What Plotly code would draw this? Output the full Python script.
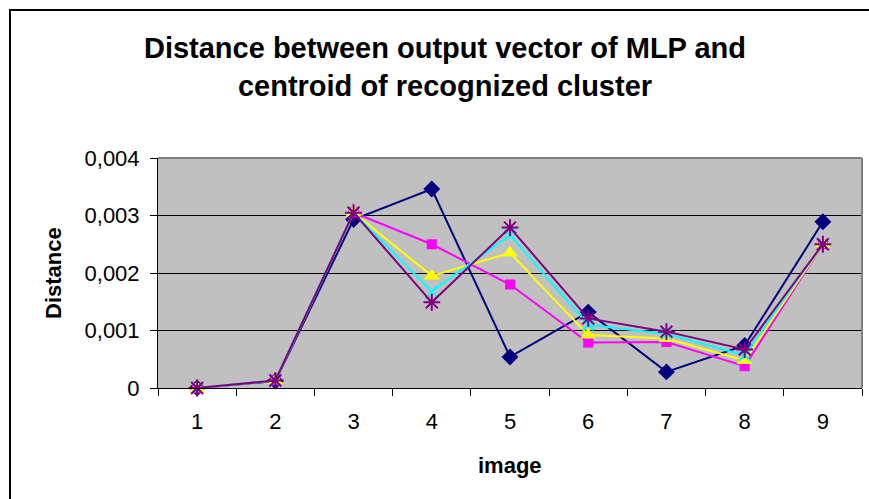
import plotly.graph_objects as go

images = [1, 2, 3, 4, 5, 6, 7, 8, 9]
series_1 = [0.0, 0.00012, 0.00293, 0.00346, 0.00054, 0.00132, 0.00028, 0.00074, 0.00289]
series_2 = [0.0, 0.00013, 0.00305, 0.00250, 0.00180, 0.00079, 0.00080, 0.00038, 0.00250]
series_3 = [0.0, 0.00013, 0.00305, 0.00195, 0.00235, 0.00092, 0.00086, 0.00048, 0.00250]
series_4 = [0.0, 0.00013, 0.00305, 0.00168, 0.00266, 0.00110, 0.00094, 0.00057, 0.00251]
series_5 = [0.0, 0.00013, 0.00305, 0.00149, 0.00279, 0.00121, 0.00098, 0.00067, 0.00250]
y_ticks = [0, 0.001, 0.002, 0.003, 0.004]
y_tick_labels = ["0", "0,001", "0,002", "0,003", "0,004"]
x_tick_labels = ["1", "2", "3", "4", "5", "6", "7", "8", "9"]

FONT = "Liberation Sans, Arial, sans-serif"

fig = go.Figure()
styles = [
    (series_1, "#000080", "diamond", 13, 0),
    (series_2, "#FF00FF", "square", 10, 0),
    (series_3, "#FFFF00", "triangle-up", 14, 0),
    (series_4, "#00FFFF", "x-thin-open", 11, 2),
    (series_5, "#800080", "asterisk-open", 14, 2),
]
for data, color, sym, size, lw in styles:
    fig.add_trace(go.Scatter(
        x=images, y=data, mode="lines+markers",
        line=dict(color=color, width=2),
        marker=dict(symbol=sym, size=size, color=color,
                    line=dict(color=color, width=lw)),
        showlegend=False, cliponaxis=False,
    ))

# outer chart border (cropped by the image edges)
fig.add_shape(type="rect", xref="paper", yref="paper",
              x0=(10 - 158) / 704, x1=1.2, y0=-0.7, y1=(388 - 10) / 230,
              line=dict(color="black", width=2), fillcolor="rgba(0,0,0,0)", layer="above")
# gray top/right plot border
fig.add_shape(type="line", xref="paper", yref="paper", x0=0, x1=1, y0=1, y1=1,
              line=dict(color="#808080", width=2))
fig.add_shape(type="line", xref="paper", yref="paper", x0=1, x1=1, y0=0, y1=1,
              line=dict(color="#808080", width=2))

fig.add_annotation(text="<b>Distance</b>", xref="paper", yref="paper",
                   x=(53 - 158) / 704, y=0.5, textangle=-90, showarrow=False,
                   font=dict(family=FONT, size=22, color="black"),
                   xanchor="center", yanchor="middle")
fig.add_annotation(text="<b>image</b>", xref="paper", yref="paper",
                   x=0.5, y=(388 - 465) / 230, showarrow=False,
                   font=dict(family=FONT, size=22, color="black"),
                   xanchor="center", yanchor="middle")

fig.update_layout(
    width=869, height=499,
    margin=dict(l=158, r=7, t=158, b=111),
    paper_bgcolor="white", plot_bgcolor="#C0C0C0",
    title=dict(text="<b>Distance between output vector of MLP and<br>centroid of recognized cluster</b>",
               xref="container", yref="container", x=445 / 869, y=1 - 58 / 499,
               xanchor="center", yanchor="middle",
               font=dict(family=FONT, size=29, color="black")),
    font=dict(family=FONT, color="black"),
)
fig.update_xaxes(range=[0.5, 9.5], tickvals=images, ticktext=x_tick_labels,
                 ticks="", showgrid=False, zeroline=False,
                 showline=True, linecolor="black", linewidth=1,
                 tickfont=dict(size=22, family=FONT, color="black"),
                 ticklabelstandoff=14,
                 minor=dict(tickvals=[i + 0.5 for i in range(0, 10)], ticks="outside",
                            ticklen=7, tickcolor="black", showgrid=False))
fig.update_yaxes(range=[0, 0.004], tickvals=y_ticks, ticktext=y_tick_labels,
                 ticks="outside", ticklen=7, tickcolor="black",
                 showgrid=True, gridcolor="black", gridwidth=1, zeroline=False,
                 showline=True, linecolor="black", linewidth=1,
                 tickfont=dict(size=22, family=FONT, color="black"),
                 ticklabelstandoff=6)

fig.write_html("out.html", config={"displayModeBar": False},
               post_script="document.body.style.margin='0';document.body.style.padding='0';")
